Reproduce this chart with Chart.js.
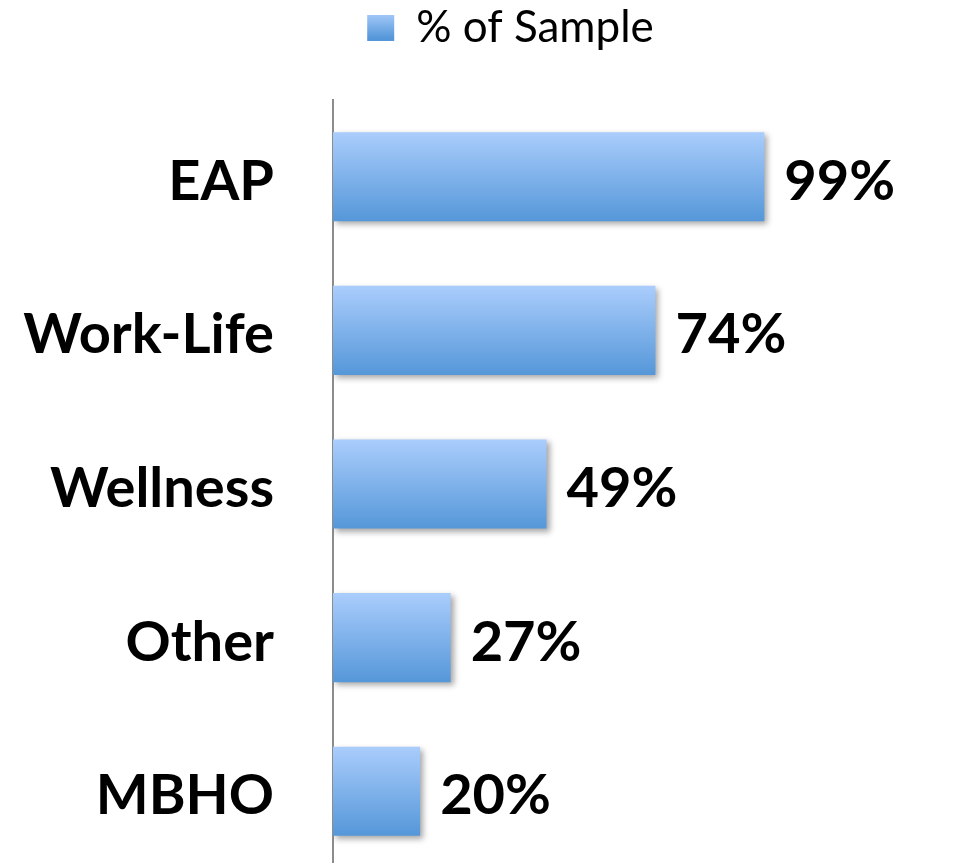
<!DOCTYPE html>
<html>
<head>
<meta charset="utf-8">
<script src="https://cdn.jsdelivr.net/npm/chart.js@4/dist/chart.umd.min.js"></script>
<style>
  html, body { margin: 0; padding: 0; background: #fff; overflow: hidden; }
  #wrap { position: relative; width: 979px; height: 880px; }
</style>
</head>
<body>
<div id="wrap"><canvas id="chart"></canvas></div>
<script>
const categories = ["EAP", "Work-Life", "Wellness", "Other", "MBHO"];
const sampleShare = [99, 74, 49, 27, 20];
const seriesName = "% of Sample";

const FONT = "Lato, 'Open Sans', sans-serif";
const CAT_PCT = 0.58;

function barGradient(ctx, top, bottom) {
  const g = ctx.createLinearGradient(0, top, 0, bottom);
  g.addColorStop(0, "#aacdfc");
  g.addColorStop(1, "#5597d9");
  return g;
}

// bar fill: gradient over each bar's own height
function barFill(context) {
  const chart = context.chart;
  const yScale = chart.scales.y;
  if (!yScale || context.dataIndex === undefined) return "#7fb0ec";
  const center = yScale.getPixelForValue(context.dataIndex);
  const half = yScale.height / categories.length * CAT_PCT / 2;
  return barGradient(chart.ctx, center - half, center + half);
}

// soft shadow behind bars
const barShadow = {
  id: "barShadow",
  beforeDatasetDraw(chart) {
    const ctx = chart.ctx;
    ctx.save();
    ctx.shadowColor = "rgba(0,0,0,0.35)";
    ctx.shadowBlur = 6;
    ctx.shadowOffsetX = 3;
    ctx.shadowOffsetY = 3;
  },
  afterDatasetDraw(chart) {
    chart.ctx.restore();
  }
};

// extra room under the legend, and nudge it right like the original
const legendTweak = {
  id: "legendTweak",
  afterInit(chart) {
    const legend = chart.legend;
    const fit = legend.fit;
    const draw = legend.draw;
    legend.fit = function () {
      fit.call(this);
      this.height += 40;
    };
    legend.draw = function () {
      const ctx = this.ctx;
      ctx.save();
      ctx.translate(39, 0);
      draw.call(this);
      ctx.restore();
    };
  }
};

// value labels at the end of each bar
const valueLabels = {
  id: "valueLabels",
  afterDatasetsDraw(chart) {
    const ctx = chart.ctx;
    const meta = chart.getDatasetMeta(0);
    ctx.save();
    ctx.font = "bold 56px " + FONT;
    ctx.fillStyle = "#000";
    ctx.textAlign = "left";
    ctx.textBaseline = "middle";
    meta.data.forEach((bar, i) => {
      ctx.fillText(sampleShare[i] + "%", bar.x + 20, bar.y + 5);
    });
    ctx.restore();
  }
};

const ctx = document.getElementById("chart").getContext("2d");
new Chart(ctx, {
  type: "bar",
  data: {
    labels: categories,
    datasets: [{
      label: seriesName,
      data: sampleShare,
      backgroundColor: barFill,
      borderWidth: 0,
      barPercentage: 1,
      categoryPercentage: CAT_PCT
    }]
  },
  options: {
    indexAxis: "y",
    responsive: true,
    maintainAspectRatio: false,
    animation: false,
    layout: { padding: { left: 0, right: 36, top: 0, bottom: 12 } },
    plugins: {
      legend: {
        display: true,
        position: "top",
        labels: {
          color: "#000",
          font: { family: FONT, size: 44 },
          boxWidth: 27,
          boxHeight: 26,
          padding: 6,
          generateLabels(chart) {
            return [{
              text: seriesName,
              fillStyle: barGradient(chart.ctx, 12, 38),
              strokeStyle: "rgba(0,0,0,0)",
              lineWidth: 0,
              datasetIndex: 0
            }];
          }
        }
      },
      tooltip: { enabled: false }
    },
    scales: {
      x: {
        display: false,
        min: 0,
        max: 140
      },
      y: {
        afterFit(scale) {
          scale.width = 333;
          scale.paddingTop = 0;
          scale.paddingBottom = 0;
        },
        grid: { display: false, drawTicks: false },
        border: { display: true, color: "#8c8c8c", width: 2 },
        ticks: {
          color: "#000",
          padding: 59,
          labelOffset: 5,
          font: { family: FONT, size: 56, weight: "bold" }
        }
      }
    }
  },
  plugins: [legendTweak, barShadow, valueLabels]
});
</script>
</body>
</html>
